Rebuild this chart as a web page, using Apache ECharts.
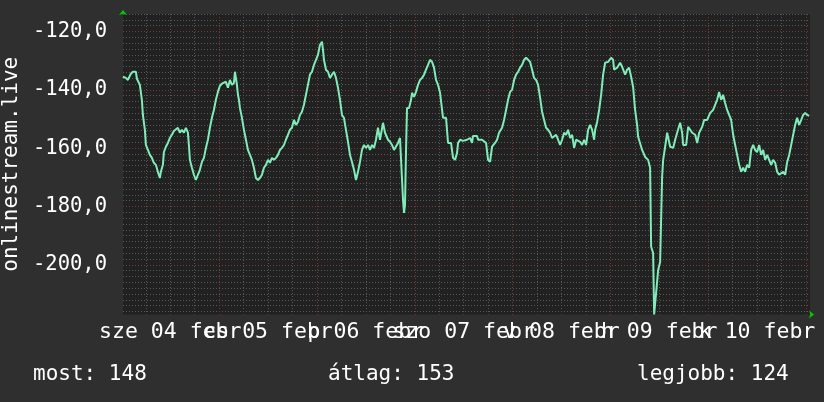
<!DOCTYPE html>
<html>
<head>
<meta charset="utf-8">
<style>
html,body{margin:0;padding:0;background:#2f2f2f;}
#chart{width:824px;height:402px;}
</style>
<script src="https://cdn.jsdelivr.net/npm/echarts@6/dist/echarts.min.js"></script>
</head>
<body>
<div id="chart"></div>
<script>
// hours since sze 04 febr 00:00
const hours = [0.37,1.10,1.60,2.09,2.33,2.82,3.56,3.81,4.30,4.54,5.03,5.28,5.77,6.02,6.51,7.00,7.49,7.98,8.47,8.96,9.45,9.70,10.19,10.44,10.93,11.42,11.91,12.40,12.89,13.38,13.87,14.36,14.85,15.35,15.84,16.33,16.57,16.82,17.31,17.80,18.29,18.78,19.27,19.77,20.26,20.75,21.24,21.73,22.22,22.71,23.20,23.69,24.19,24.68,25.17,25.66,26.15,26.64,27.13,27.62,27.87,28.11,28.36,28.61,28.85,29.10,29.59,30.08,30.57,31.06,31.55,32.04,32.53,33.02,33.52,34.01,34.50,34.99,35.48,35.97,36.46,36.95,37.44,37.94,38.43,38.92,39.41,39.90,40.39,40.88,41.37,41.86,42.36,42.85,43.34,43.83,44.32,44.81,45.30,45.79,46.28,46.78,47.27,47.76,48.25,48.74,49.23,49.48,49.72,50.21,50.70,51.20,51.69,52.18,52.67,53.16,53.65,54.14,54.63,55.12,55.62,56.11,56.60,57.09,57.58,58.07,58.56,59.05,59.54,60.04,60.53,61.02,61.51,62.00,62.49,62.98,63.47,64.21,64.70,65.44,65.93,66.42,66.91,67.40,67.89,68.38,68.87,69.12,69.37,69.61,69.86,70.10,70.60,71.09,71.33,71.82,72.31,72.80,73.30,73.79,74.28,74.77,75.26,75.75,76.24,76.73,77.22,77.72,78.21,78.94,79.68,80.17,80.91,81.40,81.89,82.38,82.63,83.12,83.85,84.84,85.57,86.06,86.31,87.29,87.54,88.52,88.76,89.50,89.99,90.48,90.97,91.22,91.71,92.20,92.69,93.43,93.92,94.41,94.90,95.39,95.88,96.38,96.87,97.36,97.85,98.34,98.83,99.32,99.81,100.30,100.80,101.29,101.78,102.27,102.76,103.25,103.74,104.23,104.72,105.21,105.71,106.20,106.69,107.18,107.67,108.16,108.65,109.14,109.63,110.13,110.62,111.11,111.60,112.09,112.58,113.07,113.56,114.05,114.55,115.04,115.53,116.02,116.27,116.76,117.25,117.74,118.23,118.72,119.46,120.19,120.68,120.93,121.67,122.40,122.89,123.63,124.12,124.61,125.10,125.59,126.08,126.57,126.82,127.80,128.54,129.27,129.76,130.01,130.50,130.75,131.24,131.36,131.73,132.22,132.71,132.96,133.45,133.94,134.19,134.68,135.42,135.91,136.40,137.13,137.62,137.87,138.61,139.10,140.08,140.82,141.31,141.80,142.53,143.03,143.76,144.50,145.23,146.21,146.70,147.19,147.68,148.17,148.66,149.15,149.65,150.14,150.63,151.12,151.61,152.10,152.59,153.08,153.57,154.07,154.56,155.05,155.54,156.03,156.52,157.01,157.50,158.00,158.49,158.98,159.47,159.96,160.45,160.94,161.43,161.92,162.42,162.91,163.40,163.89,164.38,164.87,165.36,165.85,166.34,166.84,167.33,167.82,168.31,168.80];
const values = [-135.5,-135.9,-136.6,-136.2,-134.5,-133.8,-133.8,-136.2,-136.6,-138.3,-143.4,-148.6,-153.7,-158.9,-160.6,-162.3,-163.3,-165.0,-165.7,-168.1,-170.2,-168.1,-165.7,-161.3,-159.5,-158.2,-156.5,-155.4,-154.1,-154.7,-153.0,-154.7,-153.7,-154.7,-153.0,-154.7,-158.9,-164.0,-166.7,-169.1,-170.9,-169.1,-167.4,-164.7,-163.3,-159.9,-157.1,-153.0,-149.6,-146.9,-143.4,-140.7,-138.6,-137.9,-138.3,-137.2,-139.3,-136.6,-138.3,-137.6,-133.8,-133.8,-138.3,-141.7,-143.4,-146.2,-149.6,-153.7,-157.1,-160.6,-162.3,-164.0,-166.7,-170.2,-170.9,-170.2,-169.1,-166.7,-165.7,-164.0,-165.0,-163.3,-164.0,-163.3,-162.3,-160.6,-159.9,-158.9,-157.1,-155.4,-153.7,-153.0,-150.3,-152.0,-151.0,-148.6,-147.5,-145.1,-141.7,-138.3,-134.8,-133.8,-131.4,-129.7,-128.0,-124.6,-123.5,-126.3,-129.7,-133.1,-133.8,-135.9,-134.8,-133.8,-135.9,-139.3,-143.4,-148.6,-149.6,-153.7,-157.8,-162.3,-164.7,-167.4,-170.9,-168.1,-164.7,-160.6,-158.9,-159.9,-158.9,-160.6,-158.9,-159.9,-157.1,-153.0,-157.1,-151.3,-154.7,-157.1,-157.8,-158.9,-160.6,-160.6,-158.2,-156.5,-156.5,-177.7,-182.2,-179.4,-160.6,-146.2,-146.2,-143.4,-141.0,-142.4,-140.7,-138.3,-136.6,-135.9,-134.8,-133.1,-131.4,-129.7,-130.4,-132.4,-136.6,-138.3,-141.0,-149.6,-149.6,-158.2,-158.2,-163.3,-164.0,-161.6,-158.2,-157.1,-157.5,-157.1,-156.5,-158.2,-155.8,-155.8,-157.1,-157.1,-156.5,-158.2,-164.0,-164.7,-159.5,-158.9,-158.2,-157.1,-154.7,-153.0,-150.3,-146.9,-143.4,-140.7,-140.0,-136.6,-134.8,-133.8,-132.4,-131.4,-129.7,-129.0,-129.7,-130.4,-133.1,-135.9,-136.6,-138.3,-142.7,-147.5,-150.3,-153.0,-153.7,-154.7,-156.5,-157.1,-155.4,-157.1,-158.9,-157.1,-154.7,-155.4,-153.7,-156.5,-155.4,-159.9,-157.1,-157.1,-157.8,-158.9,-157.1,-158.9,-153.7,-152.0,-153.7,-157.1,-153.7,-151.0,-146.9,-141.7,-134.8,-130.7,-130.4,-129.0,-129.7,-133.1,-132.4,-130.7,-132.1,-134.8,-133.1,-132.4,-135.5,-139.0,-146.9,-152.0,-156.1,-160.6,-163.0,-164.0,-166.7,-193.8,-195.9,-217.0,-217.0,-207.6,-201.8,-199.0,-169.8,-164.0,-159.5,-154.7,-154.7,-159.5,-159.9,-157.1,-154.7,-151.3,-154.7,-158.9,-158.9,-152.7,-154.7,-155.4,-158.2,-154.7,-152.7,-150.3,-150.3,-147.9,-146.9,-143.4,-140.7,-143.4,-141.7,-144.5,-146.9,-148.6,-150.3,-155.4,-158.9,-162.3,-165.7,-168.1,-166.7,-168.1,-165.7,-166.7,-160.6,-158.9,-160.6,-161.3,-158.9,-162.3,-160.6,-164.0,-162.3,-162.3,-165.7,-164.0,-165.0,-168.1,-169.1,-169.1,-168.1,-169.1,-164.7,-162.3,-158.9,-155.4,-152.0,-149.6,-152.0,-150.3,-148.6,-147.9,-148.6,-148.9];

const dayLabels = ['sze 04 febr','cs 05 febr','p 06 febr','szo 07 febr','v 08 febr','h 09 febr','k 10 febr'];
const dayLabelHours = [12,36,60,84,108,132,156];
// labels are split over two axes so that no axis has overlapping neighbours
const dayLabelHoursA = [12,60,108,156];
const dayLabelHoursB = [36,84,132];
const xMinorTicks = [6,12,18,24,30,36,42,48,54,60,66,72,78,84,90,96,102,108,114,120,126,132,138,144,150,156,162,168];
const xMajorTicks = [24,48,72,96,120,144,168];
const yLabelValues = [-200,-180,-160,-140,-120];
const yMinorTicks = [];
for (let v = -216; v <= -114; v += 2) yMinorTicks.push(v);

const summary = [
  {text:'most: 148', left:33},
  {text:'átlag: 153', left:328},
  {text:'legjobb: 124', left:637}
];

const FONT = 'DejaVu Sans Mono';
const chart = echarts.init(document.getElementById('chart'), null, {renderer:'canvas'});
const minorLine = {show:true, lineStyle:{color:'#575757', width:1, type:[1,2]}};
const majorLine = {show:true, lineStyle:{color:'#7a3535', width:1, type:[1,2]}};
const dayFormatter = function(v){ const i = dayLabelHours.indexOf(Math.round(v)); return i>=0 ? dayLabels[i] : ''; };
const xLabelBase = {show:true, color:'#ffffff', fontFamily:FONT, fontSize:21.5, margin:7,
  showMinLabel:true, showMaxLabel:true, hideOverlap:false, formatter:dayFormatter};

chart.setOption({
  backgroundColor:'#2f2f2f',
  animation:false,
  grid:{left:123, top:14, width:687, height:300.5, show:true, backgroundColor:'#212121', borderWidth:0,
        containLabel:false, outerBoundsMode:'none'},
  xAxis:[{
    type:'value', min:0.4, max:169, position:'bottom',
    axisLine:{show:true, symbol:['none','arrow'], symbolSize:[6,5], symbolOffset:[0,4], lineStyle:{color:'#00cc00', width:0}},
    axisTick:{show:false, customValues:xMinorTicks},
    splitLine:minorLine,
    axisLabel:Object.assign({customValues:dayLabelHoursA}, xLabelBase)
  },{
    type:'value', min:0.4, max:169, position:'bottom', offset:0,
    axisLine:{show:false},
    axisTick:{show:false, customValues:xMajorTicks},
    splitLine:majorLine,
    axisLabel:Object.assign({customValues:dayLabelHoursB}, xLabelBase)
  }],
  yAxis:[{
    type:'value', min:-217, max:-114,
    name:'onlinestream.live', nameLocation:'middle', nameGap:100, nameRotate:90,
    nameTextStyle:{color:'#ffffff', fontFamily:FONT, fontSize:21},
    axisLine:{show:true, symbol:['none','arrow'], symbolSize:[6,5], symbolOffset:[0,4], lineStyle:{color:'#00cc00', width:0}},
    axisTick:{show:false, customValues:yMinorTicks},
    splitLine:minorLine,
    axisLabel:{show:true, customValues:yLabelValues, color:'#ffffff', fontFamily:FONT, fontSize:20.5, margin:16,
      showMinLabel:true, showMaxLabel:true,
      formatter:function(v){ return v.toFixed(1).replace('.', ','); }}
  },{
    type:'value', min:-217, max:-114, position:'left',
    axisLine:{show:false}, axisLabel:{show:false},
    axisTick:{show:false, customValues:yLabelValues},
    splitLine:majorLine
  }],
  series:[{
    type:'line', xAxisIndex:0, yAxisIndex:0,
    data: hours.map((h,i)=>[h, values[i]]),
    showSymbol:false, symbol:'none',
    lineStyle:{color:'#7fecb9', width:2},
    clip:true
  }],
  graphic: summary.map(s => ({
    type:'text', left:s.left, top:364,
    style:{text:s.text, fill:'#ffffff', font:'21px "DejaVu Sans Mono"'}
  }))
});
</script>
</body>
</html>
